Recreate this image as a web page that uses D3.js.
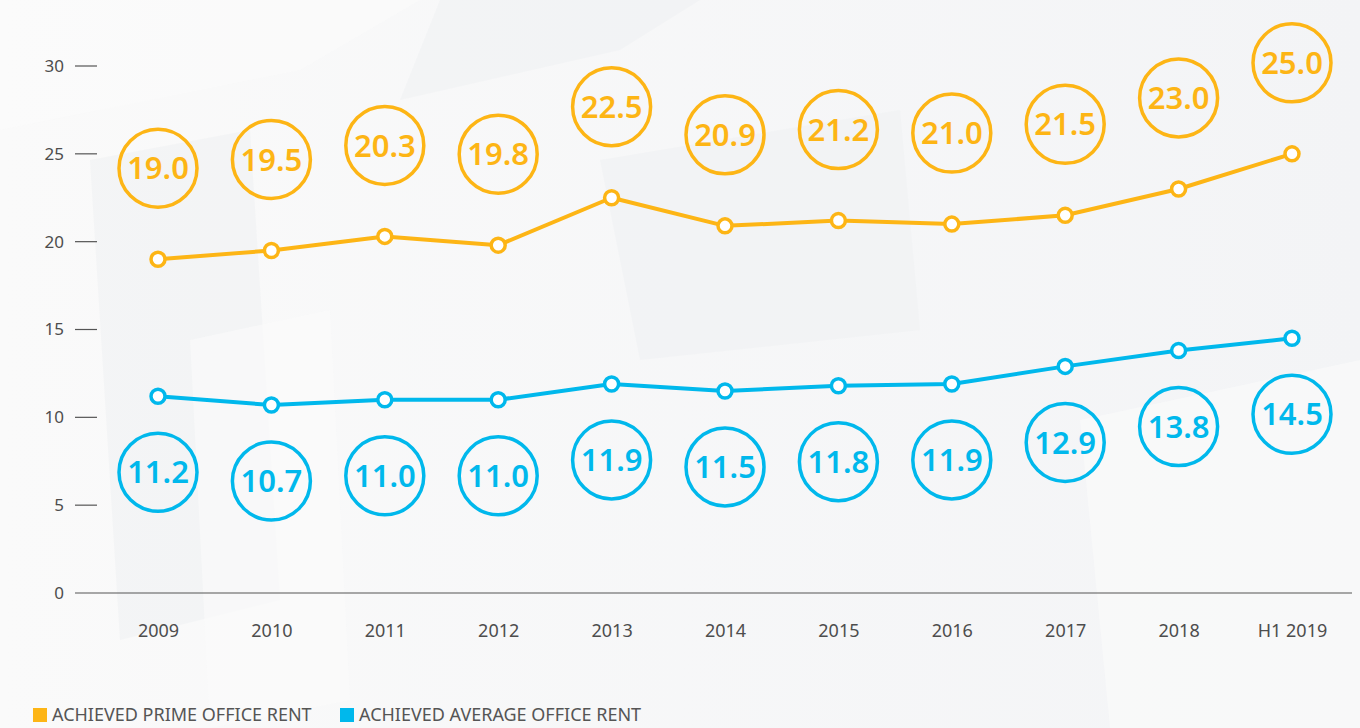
<!DOCTYPE html>
<html>
<head>
<meta charset="utf-8">
<script src="https://cdn.jsdelivr.net/npm/d3@7"></script>
<style>
  html, body { margin: 0; padding: 0; background: #f5f6f7; }
  svg { display: block; font-family: "Noto Sans", "Open Sans", sans-serif; }
</style>
</head>
<body>
<svg id="chart" width="1360" height="728"></svg>
<script>
// Office rent series (per sq m / month)
const years = ["2009", "2010", "2011", "2012", "2013", "2014", "2015", "2016", "2017", "2018", "H1 2019"];
const primeRent = [19.0, 19.5, 20.3, 19.8, 22.5, 20.9, 21.2, 21.0, 21.5, 23.0, 25.0];
const averageRent = [11.2, 10.7, 11.0, 11.0, 11.9, 11.5, 11.8, 11.9, 12.9, 13.8, 14.5];
const yTicks = [0, 5, 10, 15, 20, 25, 30];
const legendLabels = ["ACHIEVED PRIME OFFICE RENT", "ACHIEVED AVERAGE OFFICE RENT"];

const W = 1360, H = 728;
const yellow = "#fdb515", blue = "#00b8ec";
const textGrey = "#4d4d4d";
const svg = d3.select("#chart");

// soft architectural backdrop
const bg = svg.append("g");
const grad = svg.append("defs").append("linearGradient").attr("id", "bgGrad")
  .attr("x1", 0).attr("y1", 0).attr("x2", 1).attr("y2", 0);
grad.append("stop").attr("offset", 0).attr("stop-color", "#fafafa");
grad.append("stop").attr("offset", 1).attr("stop-color", "#f3f4f6");
bg.append("rect").attr("width", W).attr("height", H).attr("fill", "url(#bgGrad)");
const shapes = [
  [[0,0],[420,0],[300,70],[0,130]],
  [[90,160],[250,130],[280,600],[120,640]],
  [[190,340],[330,310],[350,700],[210,728]],
  [[440,0],[700,0],[620,50],[400,100]],
  [[1080,420],[1360,360],[1360,728],[1110,728]],
  [[600,160],[900,110],[920,330],[640,360]]
];
bg.selectAll("polygon").data(shapes).join("polygon")
  .attr("points", d => d.map(p => p.join(",")).join(" "))
  .attr("fill", (d, i) => i % 2 ? "#eff0f2" : "#fcfcfc")
  .attr("opacity", 0.55);

const x = d3.scalePoint().domain(years).range([158, 1292]);
const y = d3.scaleLinear().domain([0, 30]).range([593, 66]);

// y axis: labels with short dashes
const yAxis = svg.append("g");
yAxis.selectAll("text").data(yTicks).join("text")
  .attr("x", 64).attr("y", d => y(d)).attr("dy", "0.35em")
  .attr("text-anchor", "end").attr("font-size", 17).attr("fill", textGrey)
  .text(d => d);
yAxis.selectAll("line").data(yTicks.filter(d => d > 0)).join("line")
  .attr("x1", 75).attr("x2", 97).attr("y1", d => y(d)).attr("y2", d => y(d))
  .attr("stroke", "#555").attr("stroke-width", 1.2);
svg.append("line").attr("x1", 75).attr("x2", 1352)
  .attr("y1", y(0)).attr("y2", y(0)).attr("stroke", "#555").attr("stroke-width", 1.2);

// x axis labels
const xAxis = svg.append("g").attr("transform", `translate(0,${y(0)})`)
  .call(d3.axisBottom(x).tickSize(0).tickPadding(31));
xAxis.select(".domain").remove();
xAxis.selectAll("text").attr("font-size", 18).attr("fill", textGrey)
  .attr("font-family", "'Noto Sans', 'Open Sans', sans-serif");

function drawSeries(values, color, labelOffset) {
  const g = svg.append("g");
  const line = d3.line().x((d, i) => x(years[i])).y(d => y(d));
  g.append("path").datum(values).attr("d", line)
    .attr("fill", "none").attr("stroke", color).attr("stroke-width", 4)
    .attr("stroke-linejoin", "round");
  g.selectAll("circle.pt").data(values).join("circle").attr("class", "pt")
    .attr("cx", (d, i) => x(years[i])).attr("cy", d => y(d)).attr("r", 7)
    .attr("fill", "#fff").attr("stroke", color).attr("stroke-width", 3.5);
  const bubbles = g.selectAll("g.bubble").data(values).join("g").attr("class", "bubble")
    .attr("transform", (d, i) => `translate(${x(years[i])},${y(d) + labelOffset})`);
  bubbles.append("circle").attr("r", 39).attr("fill", "none")
    .attr("stroke", color).attr("stroke-width", 3.5);
  bubbles.append("text").attr("text-anchor", "middle").attr("dy", "0.36em")
    .attr("font-size", 31).attr("font-weight", 600).attr("fill", color)
    .text(d => d.toFixed(1));
}
drawSeries(primeRent, yellow, -91);
drawSeries(averageRent, blue, 76);

// legend
const legend = svg.append("g").attr("transform", "translate(33,708)");
const items = [{ label: legendLabels[0], color: yellow, x: 0 }, { label: legendLabels[1], color: blue, x: 307 }];
const li = legend.selectAll("g").data(items).join("g").attr("transform", d => `translate(${d.x},0)`);
li.append("rect").attr("width", 14).attr("height", 14).attr("fill", d => d.color);
li.append("text").attr("x", 19).attr("y", 7).attr("dy", "0.36em")
  .attr("font-size", 18).attr("fill", "#555").text(d => d.label);
</script>
</body>
</html>
